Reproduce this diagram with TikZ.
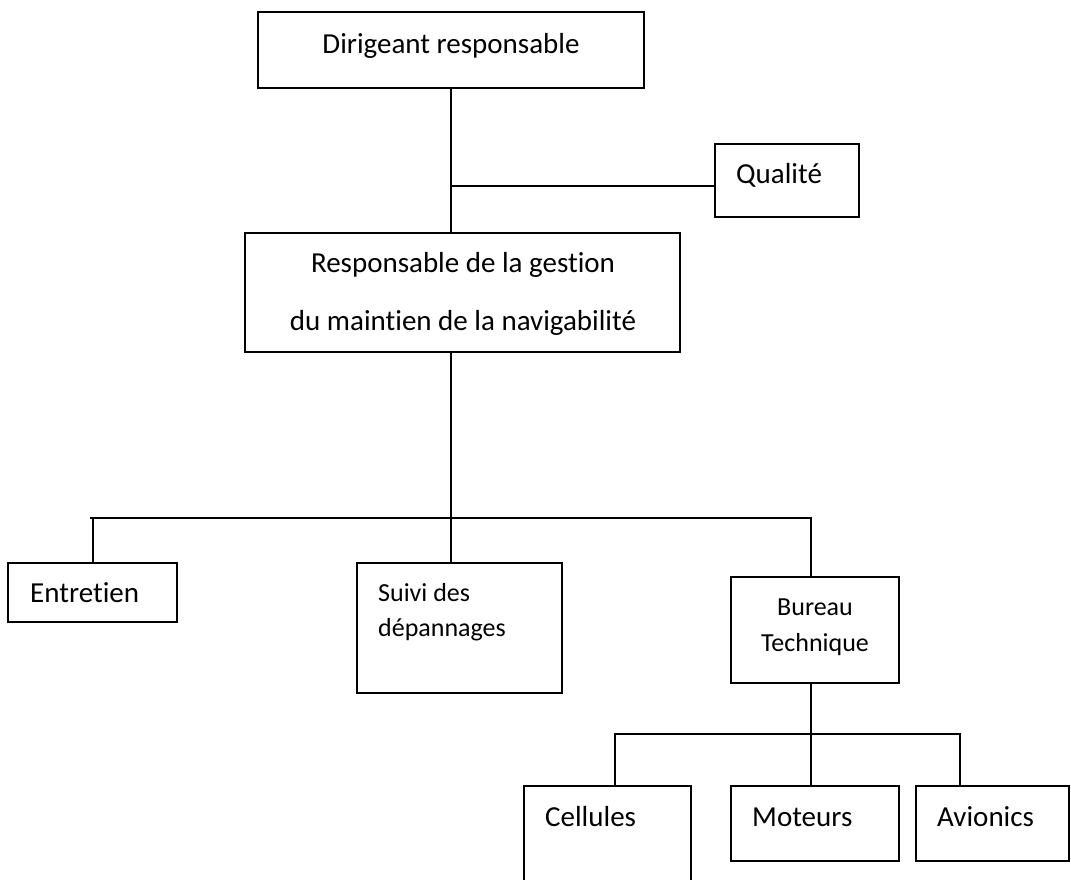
\documentclass[tikz,border=0pt]{standalone}
\usepackage{fontspec}
\setmainfont{Carlito}[Ligatures=NoCommon]
\usetikzlibrary{fit}
\begin{document}
\begin{tikzpicture}[x=1pt,y=-1pt,
  box/.style={draw, line width=1.7pt, inner sep=0pt, outer sep=0pt},
  conn/.style={line width=1.7pt},
  big/.style={font=\fontsize{29}{35}\selectfont, inner sep=0pt},
  small/.style={font=\fontsize{26}{31}\selectfont, inner sep=0pt}]
\clip (0,0) rectangle (1071,879);
% boxes
\node[box, fit={(258,12) (644,88)}] (dir) {};
\node[box, fit={(715,144) (859,217)}] (qual) {};
\node[box, fit={(245,233) (680,352)}] (resp) {};
\node[box, fit={(8,563) (177,622)}] (ent) {};
\node[box, fit={(357,563) (562,693)}] (suivi) {};
\node[box, fit={(731,577) (899,683)}] (bur) {};
\node[box, fit={(524,786) (691,900)}] (cel) {};
\node[box, fit={(731,786) (899,861)}] (mot) {};
\node[box, fit={(916,786) (1069,861)}] (avi) {};
% texts
\node[big, anchor=base] (tdir) at (451,53) {Dirigeant responsable};
\node[big, anchor=base west] (tqual) at (736,183) {Qualité};
\node[big, anchor=base] (tresp1) at (463,272) {Responsable de la gestion};
\node[big, anchor=base] (tresp2) at (463,330) {du maintien de la navigabilité};
\node[big, anchor=base west] (tent) at (30,602) {Entretien};
\node[small, anchor=base west] (tsuivi1) at (378,601) {Suivi des};
\node[small, anchor=base west] (tsuivi2) at (378,636) {dépannages};
\node[small, anchor=base] (tbur1) at (815,615) {Bureau};
\node[small, anchor=base] (tbur2) at (815,651) {Technique};
\node[big, anchor=base west] (tcel) at (545,826) {Cellules};
\node[big, anchor=base west] (tmot) at (752,826) {Moteurs};
\node[big, anchor=base west] (tavi) at (937,826) {Avionics};
% junction coordinates
\coordinate (top) at (451,88);
\coordinate (qj) at (451,186);
\coordinate (mj) at (451,518);
\coordinate (lj) at (90,518);
\coordinate (ej) at (93,518);
\coordinate (rj) at (811,518);
\coordinate (bj) at (811,734);
\coordinate (cj) at (615,734);
\coordinate (aj) at (960,734);
% connectors
\draw[conn] (top) -- (top |- resp.north);
\draw[conn] (qj) -- (qj -| qual.west);
\draw[conn] (mj |- resp.south) -- (mj |- suivi.north);
\draw[conn] (lj) -- (rj) -- (rj |- bur.north);
\draw[conn] (ej) -- (ej |- ent.north);
\draw[conn] (rj |- bur.south) -- (rj |- mot.north);
\draw[conn] (cj |- cel.north) -- (cj) -- (aj) -- (aj |- avi.north);
\end{tikzpicture}
\end{document}
